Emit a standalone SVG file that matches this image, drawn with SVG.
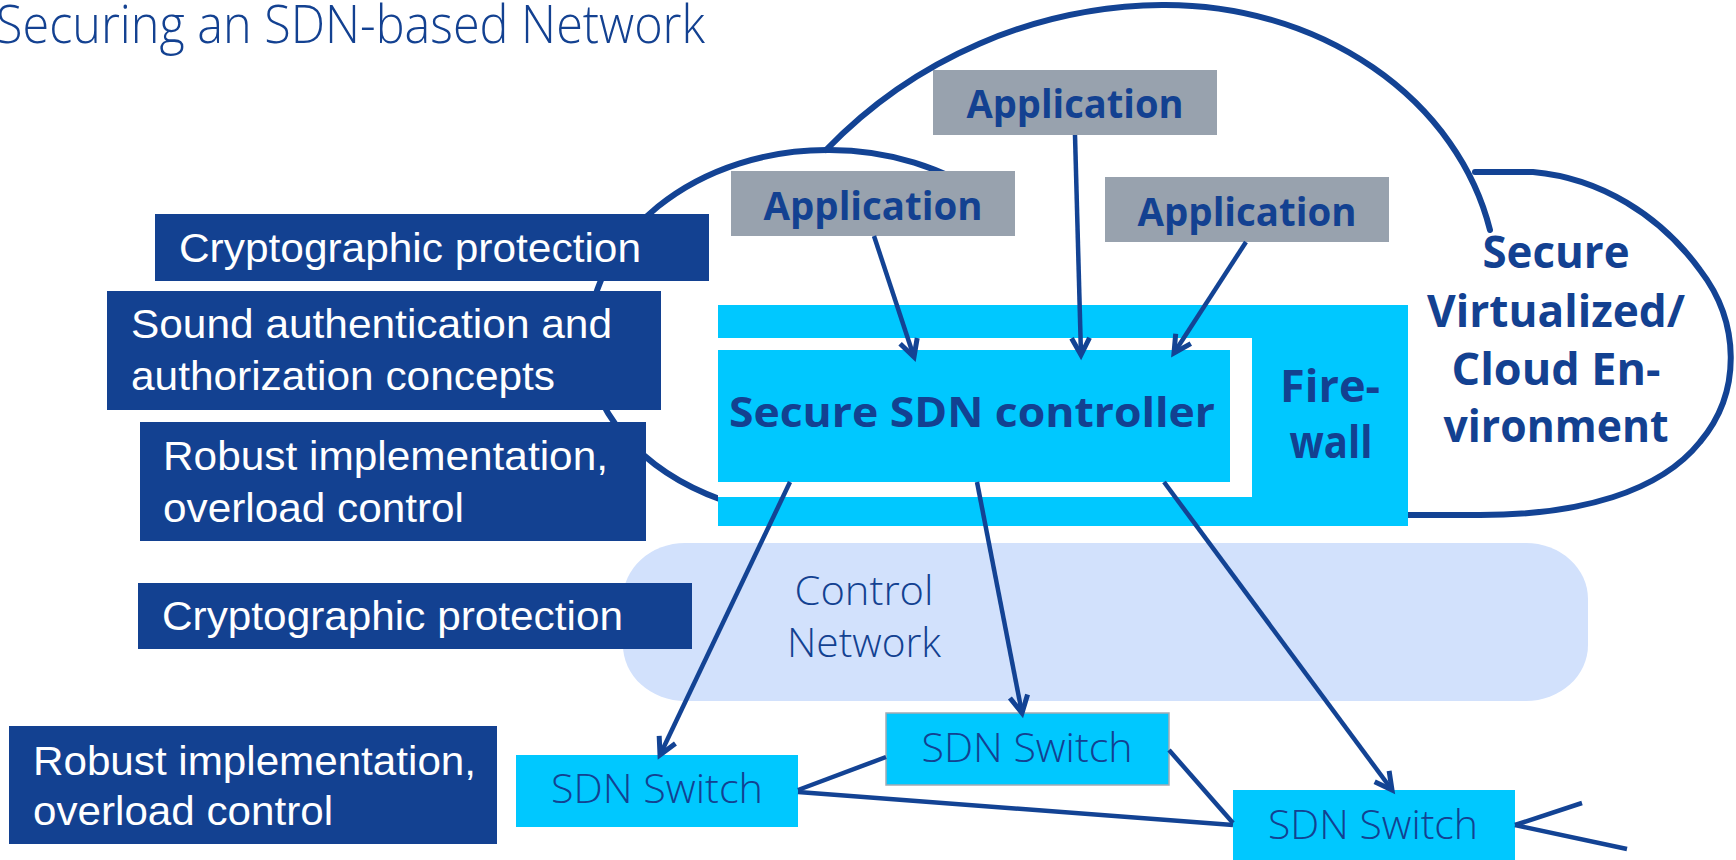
<svg xmlns="http://www.w3.org/2000/svg" width="1736" height="860" viewBox="0 0 1736 860">
  <style>
    .cloud { fill: none; stroke: #134394; stroke-width: 6; stroke-linecap: round; stroke-linejoin: round; }
    .conn { fill: none; stroke: #134394; stroke-width: 4.5; }
    .arrow { marker-end: url(#head); }
    .navy { fill: #134191; }
    .app { fill: #98A2AE; }
    .cyan { fill: #00C8FF; }
    .band { fill: #D2E1FC; }
    .note { font-family: "Liberation Sans", Arial, sans-serif; font-size: 40px; fill: #FFFFFF; }
    .bold { font-family: "Open Sans", "Noto Sans", sans-serif; font-weight: 700; fill: #134191; text-anchor: middle; }
    .light { font-family: "Open Sans", "Noto Sans", sans-serif; font-weight: 300; fill: #134191; text-anchor: middle; }
  </style>
  <defs>
    <marker id="head" markerUnits="userSpaceOnUse" markerWidth="40" markerHeight="40" refX="0" refY="0" viewBox="-20 -20 40 40" orient="auto" overflow="visible">
      <path d="M-17,-9 L0,0 L-17,9" fill="none" stroke="#134394" stroke-width="5" stroke-linejoin="miter"/>
    </marker>
  </defs>

  <rect width="1736" height="860" fill="#FFFFFF"/>

  <!-- title -->
  <text x="-4" y="43" font-family="'Open Sans', 'Noto Sans', sans-serif" font-weight="300" font-size="54" fill="#134191" textLength="709" lengthAdjust="spacingAndGlyphs">Securing an SDN-based Network</text>

  <!-- cloud outline -->
  <g id="cloud">
    <!-- small left lobe -->
    <path class="cloud" d="M990,200 A239 193 0 0 0 827,150 A239 193 0 0 0 588,343 A239 175 0 0 0 722,500"/>
    <!-- large top lobe -->
    <path class="cloud" d="M826,150 A473 473 0 0 1 1162,5 A332 285 0 0 1 1490,230"/>
    <!-- right lobe -->
    <path class="cloud" d="M1475,172 L1533,172 C1600,178 1660,215 1700,270 C1740,322 1742,392 1700,442 C1660,492 1580,515 1480,515 L1408,515"/>
  </g>

  <!-- control network band -->
  <g id="control-network">
    <rect class="band" x="623" y="543" width="965" height="158" rx="62" ry="56"/>
    <text class="light" x="864" y="605" font-size="40" textLength="139" lengthAdjust="spacingAndGlyphs">Control</text>
    <text class="light" x="864" y="657" font-size="40" textLength="154" lengthAdjust="spacingAndGlyphs">Network</text>
  </g>

  <!-- firewall around the controller -->
  <g id="firewall">
    <rect class="cyan" x="718" y="305" width="690" height="221"/>
    <rect x="718" y="338" width="534" height="159" fill="#FFFFFF"/>
    <text class="bold" x="1330" y="402" font-size="44" textLength="100" lengthAdjust="spacingAndGlyphs">Fire-</text>
    <text class="bold" x="1331" y="458" font-size="44" textLength="83" lengthAdjust="spacingAndGlyphs">wall</text>
  </g>

  <g id="controller">
    <rect class="cyan" x="718" y="350" width="512" height="132"/>
    <text class="bold" x="972" y="427" font-size="42" textLength="486" lengthAdjust="spacingAndGlyphs">Secure SDN controller</text>
  </g>

  <!-- cloud label -->
  <g id="cloud-label">
    <text class="bold" x="1556" y="268" font-size="44" textLength="147" lengthAdjust="spacingAndGlyphs">Secure</text>
    <text class="bold" x="1556" y="327" font-size="44" textLength="258" lengthAdjust="spacingAndGlyphs">Virtualized/</text>
    <text class="bold" x="1556" y="385" font-size="44" textLength="209" lengthAdjust="spacingAndGlyphs">Cloud En-</text>
    <text class="bold" x="1556" y="442" font-size="44" textLength="225" lengthAdjust="spacingAndGlyphs">vironment</text>
  </g>

  <!-- applications -->
  <g id="app-top">
    <rect class="app" x="933" y="70" width="284" height="65"/>
    <text class="bold" x="1075" y="118" font-size="40" textLength="217" lengthAdjust="spacingAndGlyphs">Application</text>
  </g>
  <g id="app-left">
    <rect class="app" x="731" y="171" width="284" height="65"/>
    <text class="bold" x="873" y="220" font-size="40" textLength="219" lengthAdjust="spacingAndGlyphs">Application</text>
  </g>
  <g id="app-right">
    <rect class="app" x="1105" y="177" width="284" height="65"/>
    <text class="bold" x="1247" y="226" font-size="40" textLength="219" lengthAdjust="spacingAndGlyphs">Application</text>
  </g>

  <!-- switches -->
  <g id="switch-left">
    <rect class="cyan" x="516" y="755" width="282" height="72"/>
    <text class="light" x="657" y="803" font-size="40" textLength="212" lengthAdjust="spacingAndGlyphs">SDN Switch</text>
  </g>
  <g id="switch-middle">
    <rect class="cyan" x="886" y="713" width="283" height="72" stroke="#A3ABB4" stroke-width="1.5"/>
    <text class="light" x="1027" y="762" font-size="40" textLength="211" lengthAdjust="spacingAndGlyphs">SDN Switch</text>
  </g>
  <g id="switch-right">
    <rect class="cyan" x="1233" y="790" width="282" height="72"/>
    <text class="light" x="1373" y="839" font-size="40" textLength="210" lengthAdjust="spacingAndGlyphs">SDN Switch</text>
  </g>

  <!-- connectors -->
  <g id="connectors">
    <line class="conn arrow" x1="874" y1="236" x2="914" y2="357"/>
    <line class="conn arrow" x1="1075" y1="135" x2="1081" y2="355"/>
    <line class="conn arrow" x1="1246" y1="242" x2="1174" y2="353"/>
    <line class="conn arrow" x1="790" y1="482" x2="660" y2="755"/>
    <line class="conn arrow" x1="977" y1="482" x2="1022" y2="713"/>
    <line class="conn arrow" x1="1164" y1="482" x2="1392" y2="790"/>
    <line class="conn" x1="798" y1="790" x2="886" y2="757"/>
    <line class="conn" x1="798" y1="792" x2="1233" y2="825"/>
    <line class="conn" x1="1169" y1="750" x2="1233" y2="823"/>
    <line class="conn" x1="1515" y1="825" x2="1582" y2="803"/>
    <line class="conn" x1="1515" y1="825" x2="1627" y2="849"/>
  </g>

  <!-- security measures -->
  <g id="crypto-top">
    <rect class="navy" x="155" y="214" width="554" height="67"/>
    <text class="note" x="179" y="262" textLength="462" lengthAdjust="spacingAndGlyphs">Cryptographic protection</text>
  </g>
  <g id="auth">
    <rect class="navy" x="107" y="291" width="554" height="119"/>
    <text class="note" x="131" y="338" textLength="481" lengthAdjust="spacingAndGlyphs">Sound authentication and</text>
    <text class="note" x="131" y="390" textLength="424" lengthAdjust="spacingAndGlyphs">authorization concepts</text>
  </g>
  <g id="robust-top">
    <rect class="navy" x="140" y="422" width="506" height="119"/>
    <text class="note" x="163" y="470" textLength="445" lengthAdjust="spacingAndGlyphs">Robust implementation,</text>
    <text class="note" x="163" y="522" textLength="301" lengthAdjust="spacingAndGlyphs">overload control</text>
  </g>
  <g id="crypto-bottom">
    <rect class="navy" x="138" y="583" width="554" height="66"/>
    <text class="note" x="162" y="630" textLength="461" lengthAdjust="spacingAndGlyphs">Cryptographic protection</text>
  </g>
  <g id="robust-bottom">
    <rect class="navy" x="9" y="726" width="488" height="118"/>
    <text class="note" x="33" y="775" textLength="443" lengthAdjust="spacingAndGlyphs">Robust implementation,</text>
    <text class="note" x="33" y="825" textLength="300" lengthAdjust="spacingAndGlyphs">overload control</text>
  </g>
</svg>
